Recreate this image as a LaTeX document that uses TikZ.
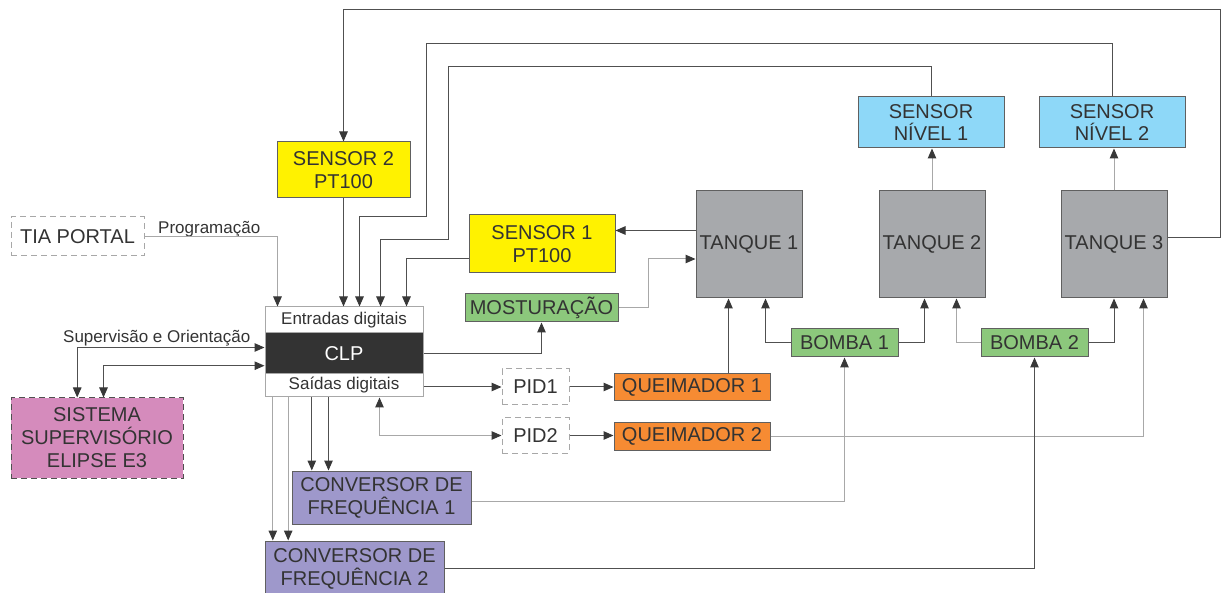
\documentclass[tikz,border=0pt]{standalone}
\usepackage{fontspec}
\setmainfont{Liberation Sans}
\usetikzlibrary{arrows.meta,calc}

\definecolor{txt}{HTML}{333333}
\definecolor{edge}{HTML}{606060}
\definecolor{wdark}{HTML}{505050}
\definecolor{wlight}{HTML}{A8A8A8}
\definecolor{tipc}{HTML}{383838}
\definecolor{cyellow}{HTML}{FFF200}
\definecolor{cblue}{HTML}{8ED8F8}
\definecolor{cgray}{HTML}{A7A9AC}
\definecolor{cgreen}{HTML}{8CC87C}
\definecolor{corange}{HTML}{F68B33}
\definecolor{cpurple}{HTML}{9E98CB}
\definecolor{cpink}{HTML}{D58BBC}
\definecolor{cclp}{HTML}{333333}

\tikzset{
  blk/.style={draw=edge, line width=1pt, text=txt, align=center, inner sep=0pt,
    font=\fontsize{20}{23}\selectfont},
  dashbox/.style={blk, fill=white, dash pattern=on 6pt off 4pt},
  lbl/.style={text=txt, inner sep=0pt, font=\fontsize{17}{20}\selectfont},
  wire/.style={draw=wdark, line width=1pt},
  wirel/.style={draw=wlight, line width=1pt},
  >={Triangle[length=10pt,width=8.5pt,color=tipc]}
}

\begin{document}
\begin{tikzpicture}[x=1pt,y=-1pt]
\useasboundingbox (0,0) rectangle (1221,593);
\clip (0,0) rectangle (1221,593);

% ---- blocks ----
\node[dashbox, draw=wlight, minimum width=133pt, minimum height=39pt] (tia) at (77.5,236.5) {TIA PORTAL};
\node[dashbox, fill=cpink, draw=wdark, minimum width=172pt, minimum height=80pt] (sis) at (97,438)
  {SISTEMA\\SUPERVISÓRIO\\ELIPSE E3};

\node[blk, draw=wlight, fill=white, minimum width=158pt, minimum height=26pt, font=\fontsize{17}{20}\selectfont] (ent) at (344,320) {Entradas digitais};
\node[blk, draw=wlight, fill=cclp, text=white, minimum width=158pt, minimum height=41pt] (clp) at (344,353.5) {CLP};
\node[blk, draw=wlight, fill=white, minimum width=158pt, minimum height=23pt, font=\fontsize{17}{20}\selectfont] (sai) at (344,385.5) {Saídas digitais};

\node[blk, fill=cyellow, minimum width=133pt, minimum height=56pt] (s2) at (343.5,170) {SENSOR 2\\PT100};
\node[blk, fill=cyellow, minimum width=146pt, minimum height=58pt] (s1) at (542,244) {SENSOR 1\\PT100};
\node[blk, fill=cgreen, minimum width=153pt, minimum height=28pt] (mos) at (541.5,308) {MOSTURAÇÃO};

\node[blk, fill=cgray, minimum width=106pt, minimum height=107pt] (t1) at (749,244.5) {TANQUE 1};
\node[blk, fill=cgray, minimum width=106pt, minimum height=107pt] (t2) at (932,244.5) {TANQUE 2};
\node[blk, fill=cgray, minimum width=106pt, minimum height=107pt] (t3) at (1114,244.5) {TANQUE 3};

\node[blk, fill=cblue, minimum width=146pt, minimum height=51pt, font=\fontsize{20}{21.5}\selectfont] (sn1) at (931,122.5) {SENSOR\\NÍVEL 1};
\node[blk, fill=cblue, minimum width=146pt, minimum height=51pt, font=\fontsize{20}{21.5}\selectfont] (sn2) at (1112,122.5) {SENSOR\\NÍVEL 2};

\node[blk, fill=cgreen, minimum width=107pt, minimum height=28pt] (b1) at (844.5,343) {BOMBA 1};
\node[blk, fill=cgreen, minimum width=107pt, minimum height=28pt] (b2) at (1034.5,343) {BOMBA 2};

\node[dashbox, draw=wlight, minimum width=67pt, minimum height=36pt] (pid1) at (535.5,387) {PID1};
\node[dashbox, draw=wlight, minimum width=67pt, minimum height=35pt] (pid2) at (535.5,435.5) {PID2};

\node[blk, fill=corange, minimum width=156pt, minimum height=27pt] (q1) at (692,387.5) {QUEIMADOR 1};
\node[blk, fill=corange, minimum width=156pt, minimum height=27pt] (q2) at (692,436.5) {QUEIMADOR 2};

\node[blk, fill=cpurple, minimum width=179pt, minimum height=53pt] (c1) at (381.5,497.5) {CONVERSOR DE\\FREQUÊNCIA 1};
\node[blk, fill=cpurple, minimum width=179pt, minimum height=55pt] (c2) at (354.5,568.5) {CONVERSOR DE\\FREQUÊNCIA 2};

% ---- labels ----
\node[lbl, anchor=base west] (prog) at (158,234) {Programação};
\node[lbl, anchor=base west] (sup) at (63,342.5) {Supervisão e Orientação};

% ---- inputs of the PLC ----
\draw[wirel, ->] (tia.east) -| ($(ent.north west)+(13,0)$);
\draw[wire, ->] (s2.south) -- (s2.south |- ent.north);
\draw[wire, ->] (sn2.north) -- ++(0,-53) -| (426.7,216.7) -| ($(ent.north west)+(95,0)$);
\draw[wire, ->] (sn1.north) -- ++(0,-29.6) -| (448.7,240) -| ($(ent.north west)+(116,0)$);
\draw[wire, ->] ($(s1.west)+(0,15)$) -| ($(ent.north west)+(142,0)$);

% ---- supervisory system ----
\draw[wire, <->] ($(clp.west)+(0,-6)$) -| ($(sis.north west)+(66.7,0)$);
\draw[wire, <->] ($(clp.west)+(0,12.2)$) -| ($(sis.north west)+(93,0)$);

% ---- tank 3 to sensor 2 ----
\draw[wire, ->] ($(t3.east)+(0,-7)$) -| (1220,9.3) -| (s2.north);

% ---- tank 1 and its sensor / mash ----
\coordinate (t1s) at ($(t1.west)+(0,-14)$);
\draw[wire, ->] (t1s) -- (t1s -| s1.east);
\draw[wirel, ->] (mos.east) -- ++(30,0) |- ($(t1.west)+(0,14.5)$);
\draw[wire, ->] (clp.east) -| (mos.south);

% ---- PID loops ----
\draw[wire, ->] (sai.east |- pid1.west) -- (pid1.west);
\draw[wire, ->] (pid1.east) -- (pid1.east -| q1.west);
\draw[wirel, <->] (pid2.west) -| ($(sai.south west)+(115,0)$);
\draw[wire, ->] (pid2.east) -- (pid2.east -| q2.west);
\draw[wirel, ->] (q2.east) -| ($(t3.south west)+(83,0)$);
\draw[wire, ->] ($(q1.north west)+(115,0)$) -- ($(t1.south west)+(33,0)$);

% ---- pumps ----
\draw[wire, ->] (b1.west) -| ($(t1.south west)+(70,0)$);
\draw[wire, ->] (b1.east) -| ($(t2.south west)+(46,0)$);
\draw[wirel, ->] (b2.west) -| ($(t2.south west)+(78,0)$);
\draw[wire, ->] (b2.east) -| (t3.south);

% ---- level sensors ----
\draw[wirel, ->] (t2.north) -- (t2.north |- sn1.south);
\draw[wirel, ->] (t3.north) -- (t3.north |- sn2.south);

% ---- frequency converters ----
\draw[wirel, ->] ($(c1.east)+(0,4)$) -| (b1.south);
\draw[wire, ->] (c2.east) -| (b2.south);
\coordinate (o1) at ($(sai.south west)+(47.3,0)$);
\coordinate (o2) at ($(sai.south west)+(64,0)$);
\coordinate (o3) at ($(sai.south west)+(8.3,0)$);
\coordinate (o4) at ($(sai.south west)+(23.7,0)$);
\draw[wire, ->] (o1) -- (o1 |- c1.north);
\draw[wire, ->] (o2) -- (o2 |- c1.north);
\draw[wirel, ->] (o3) -- (o3 |- c2.north);
\draw[wirel, ->] (o4) -- (o4 |- c2.north);
\end{tikzpicture}
\end{document}
